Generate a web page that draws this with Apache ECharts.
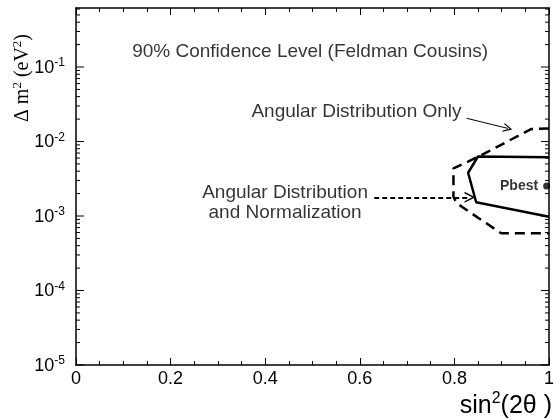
<!DOCTYPE html>
<html><head><meta charset="utf-8">
<script src="https://cdn.jsdelivr.net/npm/echarts@6/dist/echarts.min.js"></script>
<style>html,body{margin:0;padding:0;background:#fff}#c{width:557px;height:420px}</style>
</head><body><div id="c"></div>
<script>
// ---- data ----
const dashedContour = [[1.0,1.50e-2],[0.962,1.47e-2],[0.871,7.3e-3],[0.829,5.36e-3],[0.798,4.37e-3],[0.798,1.82e-3],[0.805,1.48e-3],[0.899,5.86e-4],[1.0,5.86e-4]];
const solidContour = [[1.0,6.13e-3],[0.85,6.3e-3],[0.829,3.81e-3],[0.846,1.53e-3],[1.0,9.8e-4]];
const pBest = [[0.995,2.53e-3]];
const xRange = [0,1];
const yRange = [1e-5,0.62];
const yDecades = [-5,-4,-3,-2,-1];
const yMinorMantissas = [2,3,4,5,6,7,8,9];
const annotationTexts = ['90% Confidence Level (Feldman Cousins)','Angular Distribution Only','Angular Distribution\nand Normalization'];
const annotationAt = [[0.495,0.159],[0.593,2.49e-2],[0.442,1.49e-3]];
const arrowOnly = [[0.826,2.05e-2],[0.913,1.50e-2]];
const arrowNorm = [[0.6305,1.78e-3],[0.833,1.78e-3]];

const FONT = 'Liberation Sans, Arial, Helvetica, sans-serif';
const SERIF = 'Liberation Serif, Times New Roman, serif';
const yMajorTicks = yDecades.map(e => Math.pow(10,e));
const yMinorTicks = [];
yDecades.forEach(e => yMinorMantissas.forEach(m => { const v = m*Math.pow(10,e); if (v < yRange[1]) yMinorTicks.push(v); }));

function tickRender(len){
  return function(params, api){
    const v = api.value(1);
    const l = api.coord([xRange[0], v]);
    const r = api.coord([xRange[1], v]);
    return {type:'group', children:[
      {type:'line', shape:{x1:l[0],y1:l[1],x2:l[0]+len,y2:l[1]}, style:{stroke:'#000',lineWidth:1}},
      {type:'line', shape:{x1:r[0]-len,y1:r[1],x2:r[0],y2:r[1]}, style:{stroke:'#000',lineWidth:1}}
    ]};
  };
}
const chevron = 'path://M5,0 L10,10 L8.6,10 L5,3 L1.4,10 L0,10 Z';
const axisLineStyle = {color:'#000', width:1.5};
const xAxisBase = {
  type:'value', min:xRange[0], max:xRange[1], interval:0.2,
  axisLine:{show:true, onZero:false, lineStyle:axisLineStyle},
  axisTick:{show:true, inside:true, length:7, lineStyle:{color:'#000',width:1}},
  minorTick:{show:true, splitNumber:4, length:4, lineStyle:{color:'#000',width:1}},
  splitLine:{show:false}
};
const yAxisBase = {
  type:'log', logBase:10, min:yRange[0], max:yRange[1],
  axisLine:{show:true, onZero:false, lineStyle:axisLineStyle},
  axisTick:{show:false}, splitLine:{show:false}, minorTick:{show:false}
};

const chart = echarts.init(document.getElementById('c'), null, {renderer:'canvas'});
chart.setOption({
  animation:false,
  backgroundColor:'#fff',
  textStyle:{fontFamily:FONT},
  grid:{left:76, right:2, top:8, bottom:55, containLabel:false},
  xAxis:[
    Object.assign({}, xAxisBase, {position:'bottom',
      axisLabel:{show:true, margin:5, fontSize:18, color:'#000', fontFamily:FONT}}),
    Object.assign({}, xAxisBase, {position:'top', axisLabel:{show:false}})
  ],
  yAxis:[
    Object.assign({}, yAxisBase, {position:'left',
      axisLabel:{show:true, margin:11, color:'#000',
        formatter: function(v){
          const e = Math.round(Math.log10(v));
          if (Math.abs(Math.log10(v)-e) > 1e-6 || yDecades.indexOf(e) < 0) return '';
          return '{b|10}{s|' + e + '}';
        },
        rich:{b:{fontSize:18, fontFamily:FONT, color:'#000', lineHeight:20, verticalAlign:'bottom'},
              s:{fontSize:12, fontFamily:FONT, color:'#000', lineHeight:20, verticalAlign:'top'}}}}),
    Object.assign({}, yAxisBase, {position:'right', axisLabel:{show:false}})
  ],
  graphic:[
    {type:'text', right:5, bottom:1, style:{
      text:'{n|sin}{s|2}{n|(2θ )}', fill:'#000',
      rich:{n:{fontSize:25, fontFamily:FONT, color:'#000', lineHeight:28, verticalAlign:'bottom'},
            s:{fontSize:16, fontFamily:FONT, color:'#000', lineHeight:28, verticalAlign:'top'}}}},
    {type:'text', x:22, y:78, rotation:Math.PI/2, style:{
      text:'{n|Δ m}{s|2}{n| (eV}{s|2}{n|)}', align:'center', verticalAlign:'middle', fill:'#000',
      rich:{n:{fontSize:20, fontFamily:SERIF, color:'#000', lineHeight:22, verticalAlign:'bottom'},
            s:{fontSize:13, fontFamily:SERIF, color:'#000', lineHeight:22, verticalAlign:'top'}}}}
  ],
  series:[
    {type:'custom', name:'majorTicks', renderItem:tickRender(8), data:yMajorTicks.map(v=>[0,v]), clip:false, silent:true, z:5},
    {type:'custom', name:'minorTicks', renderItem:tickRender(4), data:yMinorTicks.map(v=>[0,v]), clip:false, silent:true, z:5},
    {type:'line', name:'Angular Distribution Only', data:dashedContour, showSymbol:false, symbol:'none',
      lineStyle:{color:'#000', width:2.5, type:[10,6]}, clip:true, z:3},
    {type:'line', name:'Angular Distribution and Normalization', data:solidContour, showSymbol:false, symbol:'none',
      lineStyle:{color:'#000', width:2.5, type:'solid'}, clip:true, z:3},
    {type:'scatter', name:'Pbest', data:pBest, symbol:'circle', symbolSize:7, itemStyle:{color:'#000'}, clip:false, z:4,
      label:{show:true, position:'left', distance:5, formatter:'Pbest', fontSize:14, fontWeight:'bold', color:'#000', fontFamily:FONT}},
    {type:'scatter', name:'annotations', symbolSize:0, silent:true,
      data:annotationTexts.map((t,i)=>({name:t, value:annotationAt[i]})),
      label:{show:true, position:'inside', formatter:'{b}', fontSize:19, lineHeight:20, align:'center', color:'#000', fontFamily:FONT}},
    {type:'lines', coordinateSystem:'cartesian2d', name:'arrowOnly', silent:true, z:4,
      symbol:['none', chevron], symbolSize:[8,9],
      lineStyle:{color:'#000', width:1, opacity:1, curveness:0},
      data:[{coords:arrowOnly}]},
    {type:'lines', coordinateSystem:'cartesian2d', name:'arrowNorm', silent:true, z:4,
      symbol:['none', chevron], symbolSize:[11,11],
      lineStyle:{color:'#000', width:2, opacity:1, type:[5,3], curveness:0},
      data:[{coords:arrowNorm}]}
  ]
});
</script></body></html>
